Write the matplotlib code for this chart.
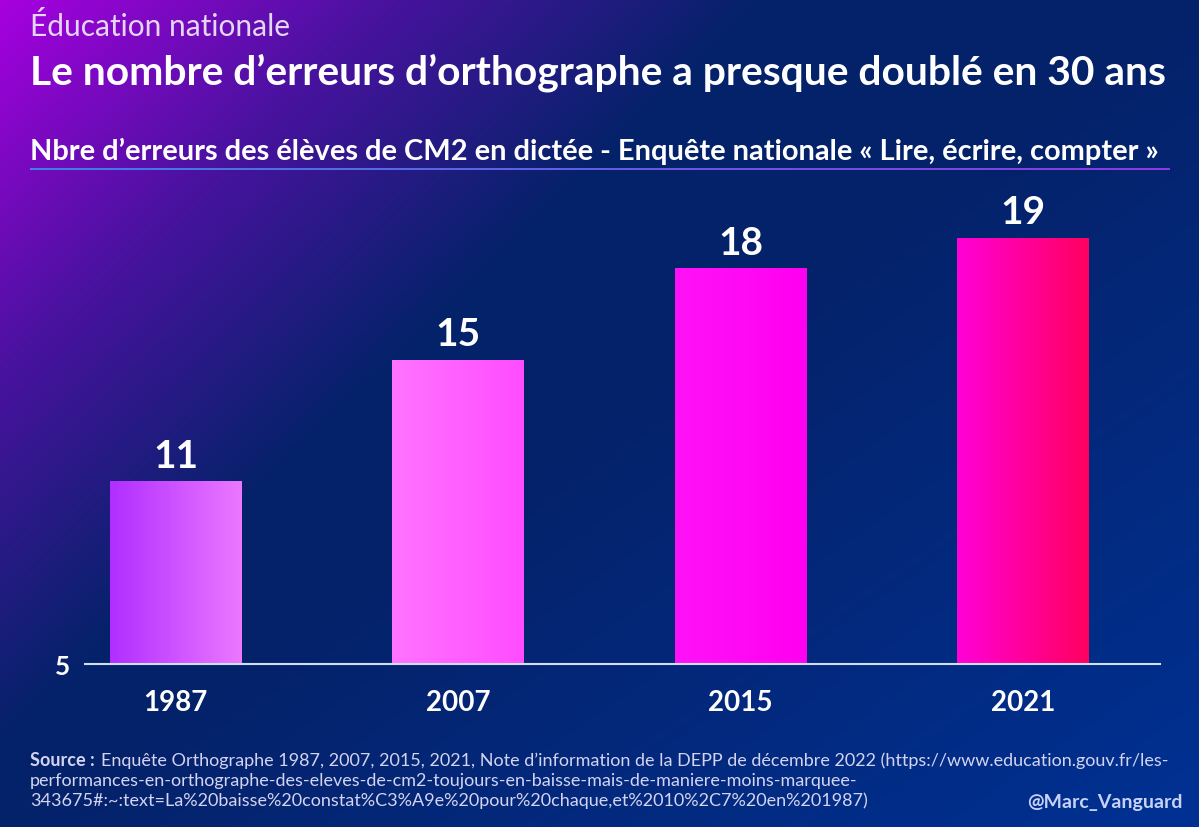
import numpy as np
import matplotlib
matplotlib.use("Agg")
import matplotlib.pyplot as plt
from matplotlib.colors import LinearSegmentedColormap, to_rgb

plt.rcParams['font.family'] = ['Lato', 'DejaVu Sans']

# data
years = ["1987", "2007", "2015", "2021"]
errors = [11, 15, 18, 19]
y_base = 5

# left -> right colours of each bar
bar_colors = [("#b02eff", "#ec78ff"),
              ("#ff74ff", "#ff4cff"),
              ("#ff12f8", "#ff00f0"),
              ("#ff00d8", "#ff0060")]

W, H = 1199, 828
fig = plt.figure(figsize=(W / 100, H / 100), dpi=100)

# background gradient: purple top-left fading to navy, a bit bluer bottom-right
bg = fig.add_axes([0, 0, 1, 1], zorder=-10)
yy, xx = np.mgrid[0:H, 0:W]
t = np.clip(xx / 760 + yy / 740, 0, 1)
c0, c1 = np.array(to_rgb("#a800e0")), np.array(to_rgb("#05226a"))
c_mid = np.array(to_rgb("#4a12a0"))
img = np.where((t < 0.5)[..., None],
               c0 + (c_mid - c0) * (t / 0.5)[..., None],
               c_mid + (c1 - c_mid) * ((t - 0.5) / 0.5)[..., None])
s = np.clip((xx / W + yy / H - 1.0), 0, 1)[..., None]
img = img + (np.array(to_rgb("#003398")) - img) * s * 0.9
bg.imshow(img, aspect='auto', extent=[0, 1, 0, 1], origin='upper')
bg.axis('off')

# chart
ax = fig.add_axes([85 / W, 1 - 665 / H, (1160 - 85) / W, (665 - 190) / H])
ax.patch.set_alpha(0)
x = np.arange(len(years))
bars = ax.bar(x, [v - y_base for v in errors], bottom=y_base, width=0.465,
              facecolor='none', edgecolor='none')
grad = np.linspace(0, 1, 256).reshape(1, -1)
for bar, (cl, cr) in zip(bars, bar_colors):
    cmap = LinearSegmentedColormap.from_list('bar', [cl, cr])
    im = ax.imshow(grad, cmap=cmap, aspect='auto', zorder=2,
                   extent=[bar.get_x(), bar.get_x() + bar.get_width(),
                           bar.get_y(), bar.get_y() + bar.get_height()])
    im.set_clip_path(bar)

for xi, v in zip(x, errors):
    ax.annotate(str(v), (xi, v), xytext=(0, 6), textcoords='offset points',
                ha='center', va='bottom', color='white', fontsize=28, fontweight='bold')

ax.set_xlim(-0.32, 3.485)
ax.set_ylim(y_base, 20.6)
ax.set_xticks(x)
ax.set_xticklabels(years)
ax.set_yticks([y_base])
ax.tick_params(axis='x', length=0, pad=18, labelsize=20, labelcolor='white')
ax.tick_params(axis='y', length=0, pad=11, labelsize=19, labelcolor='white')
for lab in ax.get_xticklabels() + ax.get_yticklabels():
    lab.set_fontweight('bold')
for side in ['top', 'right', 'left']:
    ax.spines[side].set_visible(False)
ax.spines['bottom'].set_color('#d0e0f4')
ax.spines['bottom'].set_linewidth(1.5)
ax.spines['bottom'].set_zorder(3)

# titles
fig.text(30 / W, 1 - 36 / H, "Éducation nationale", fontsize=21.5, fontweight='normal',
         color='#e6d6f6', ha='left', va='baseline')
fig.text(30 / W, 1 - 84 / H, "Le nombre d’erreurs d’orthographe a presque doublé en 30 ans",
         fontsize=29.3, fontweight='bold', color='white', ha='left', va='baseline')
fig.text(30 / W, 1 - 160 / H,
         "Nbre d’erreurs des élèves de CM2 en dictée - Enquête nationale « Lire, écrire, compter »",
         fontsize=20.9, fontweight='bold', color='white', ha='left', va='baseline')

# underline with gradient blue -> purple
ul = fig.add_axes([30 / W, 1 - 171 / H, (1170 - 30) / W, 2 / H])
ul.imshow(grad, cmap=LinearSegmentedColormap.from_list('ul', ["#3f7fe6", "#8a3ae0"]),
          aspect='auto', extent=[0, 1, 0, 1])
ul.axis('off')

# source
src_color = '#d4d4f0'
fig.text(30 / W, 1 - 766 / H, "Source :", fontsize=13, fontweight='bold',
         color=src_color, ha='left', va='baseline')
fig.text(101 / W, 1 - 766 / H,
         "Enquête Orthographe 1987, 2007, 2015, 2021, Note d’information de la DEPP de décembre 2022 (https://www.education.gouv.fr/les-",
         fontsize=13, color=src_color, ha='left', va='baseline')
fig.text(30 / W, 1 - 786 / H,
         "performances-en-orthographe-des-eleves-de-cm2-toujours-en-baisse-mais-de-maniere-moins-marquee-",
         fontsize=13, color=src_color, ha='left', va='baseline')
fig.text(30 / W, 1 - 806 / H,
         "343675#:~:text=La%20baisse%20constat%C3%A9e%20pour%20chaque,et%2010%2C7%20en%201987)",
         fontsize=13, color=src_color, ha='left', va='baseline')
fig.text(1183 / W, 1 - 808 / H, "@Marc_Vanguard", fontsize=14, fontweight='bold',
         color='#c8d2f8', ha='right', va='baseline')

fig.savefig("out.png", dpi=100)
